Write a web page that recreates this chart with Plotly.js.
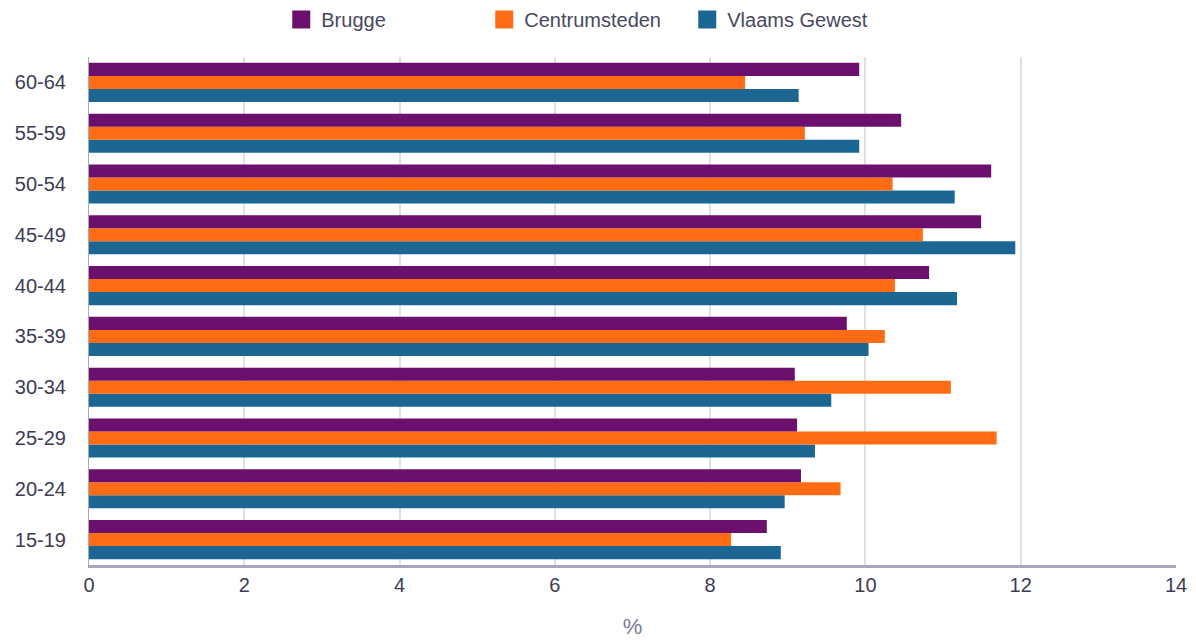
<!DOCTYPE html>
<html>
<head>
<meta charset="utf-8">
<script src="https://cdn.plot.ly/plotly-3.0.1.min.js"></script>
<style>html,body{margin:0;padding:0;background:#fff;}#chart{width:1196px;height:642px;}</style>
</head>
<body>
<div id="chart"></div>
<script>
const categories = ["15-19","20-24","25-29","30-34","35-39","40-44","45-49","50-54","55-59","60-64"];
const brugge = [8.73, 9.17, 9.12, 9.09, 9.76, 10.82, 11.49, 11.62, 10.46, 9.92];
const centrumsteden = [8.27, 9.68, 11.69, 11.10, 10.25, 10.38, 10.74, 10.35, 9.22, 8.45];
const vlaamsGewest = [8.91, 8.96, 9.35, 9.56, 10.04, 11.18, 11.93, 11.15, 9.92, 9.14];
const xTicks = [0, 2, 4, 6, 8, 10, 12, 14];

const font = "Liberation Sans, Arial, sans-serif";
const colors = {"Brugge": "#6c106e", "Centrumsteden": "#ff6c14", "Vlaams Gewest": "#1b6692"};
function tr(name, vals) {
  return {
    type: "bar", orientation: "h", name: name, x: vals, y: categories,
    marker: {color: colors[name], line: {width: 0}},
    showlegend: false, hoverinfo: "x+name"
  };
}
function legendProxy(name, rank) {
  return {
    type: "scatter", mode: "markers", name: name, x: [null], y: [null],
    marker: {symbol: "square", size: 16, color: colors[name], line: {width: 2, color: colors[name]}},
    legendrank: rank, showlegend: true, hoverinfo: "skip"
  };
}
const data = [
  tr("Vlaams Gewest", vlaamsGewest),
  tr("Centrumsteden", centrumsteden),
  tr("Brugge", brugge),
  legendProxy("Brugge", 1),
  legendProxy("Centrumsteden", 2),
  legendProxy("Vlaams Gewest", 3)
];
const layout = {
  width: 1196, height: 642,
  margin: {l: 89, r: 20, t: 57, b: 77},
  paper_bgcolor: "#fff", plot_bgcolor: "#fff",
  barmode: "group", bargap: 0.23, bargroupgap: 0,
  font: {family: font, size: 20, color: "#3c3c55"},
  showlegend: true,
  legend: {orientation: "h", x: 0.457, xanchor: "center", y: 1.0, yanchor: "top",
    yref: "container", entrywidth: 158, font: {size: 20, color: "#484860"},
    itemwidth: 30, itemsizing: "trace", traceorder: "normal"},
  xaxis: {range: [0, 14], tickvals: xTicks, ticktext: xTicks.map(String),
    showgrid: true, gridcolor: "#e0e0e8", gridwidth: 2, zeroline: false,
    showline: true, linecolor: "#a8a8bc", linewidth: 3,
    ticks: "", tickfont: {size: 20, color: "#3c3c55"},
    title: {text: "%", font: {size: 22, color: "#7a7a98"}, standoff: 24},
    fixedrange: true},
  yaxis: {type: "category", categoryarray: categories, categoryorder: "array",
    showgrid: false, zeroline: false,
    showline: true, linecolor: "#a8a8bc", linewidth: 1, ticks: "",
    tickfont: {size: 20, color: "#3c3c55"}, ticklabelstandoff: 18, fixedrange: true}
};
Plotly.newPlot("chart", data, layout, {displayModeBar: false, staticPlot: true});
</script>
</body>
</html>
